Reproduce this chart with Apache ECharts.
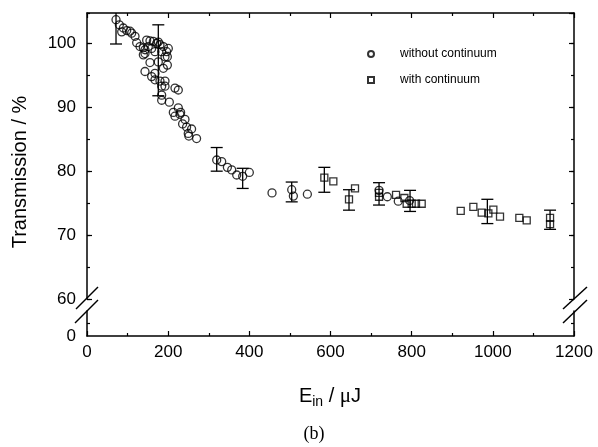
<!DOCTYPE html>
<html>
<head>
<meta charset="utf-8">
<script src="https://cdn.jsdelivr.net/npm/echarts@6/dist/echarts.min.js"></script>
<style>
html,body{margin:0;padding:0;background:#fff;}
#c{width:598px;height:447px;}
</style>
</head>
<body>
<div id="c"></div>
<script>
// ---- data ----
const seriesNames = ['without continuum', 'with continuum'];
const circleE = [71.5,79.7,85.5,89.5,97.8,106,110,118.3,122.4,130.6,138.8,142.9,147,151.1,155.2,159.3,163.4,167.5,171.6,175.7,179.8,184,188.1,192.2,196.3,198,200.4,142.9,175.7,155.2,198,188.1,142.9,167.5,159.3,167.5,179.8,192.2,216.8,225,184,192.2,184,184,202.9,225,212.7,230.7,216.8,229,241.4,235.6,245.4,257.7,249.5,251,270,138.8,319.6,331.9,345.9,356.6,368.9,383.6,400,455.9,504.4,508.5,543,719.6,740,767,795];
const circleT = [103.7,102.9,101.8,102.4,102.0,101.9,101.6,101.1,100.1,99.5,99.3,99.0,100.5,99.5,100.4,99.2,100.3,98.7,100.0,100.2,99.8,98.7,99.5,97.9,98.7,97.9,99.2,98.4,97.1,97.0,96.6,96.1,95.6,95.3,94.8,94.3,94.1,94.1,93.0,92.7,93.3,93.3,91.9,91.1,90.8,89.9,89.2,89.2,88.6,88.9,88.1,87.4,86.9,86.6,85.9,85.5,85.1,98.2,81.75,81.5,80.6,80.2,79.4,79.2,79.8,76.6,77.1,76.1,76.4,77.0,76.0,75.3,75.4];
const squareE = [584.8,607,645.6,660.4,719.6,719.6,761.5,782,787.7,800,810.7,824.7,920.9,952,972.6,989,1001.3,1017.7,1065.3,1083.5,1141,1141];
const squareT = [79.0,78.4,75.6,77.3,76.6,76.0,76.3,75.8,74.9,74.9,74.9,74.9,73.8,74.4,73.5,73.4,74.0,72.9,72.7,72.3,72.7,71.7];
const errE    = [71.5,175.7,319.6,383.6,504.4,584.8,645.6,719.6,796,986.5,1141];
const errLow  = [99.9,91.8,80.0,77.3,75.2,76.7,73.9,74.7,73.7,71.8,70.9];
const errHigh = [107.5,102.9,83.7,80.45,78.3,80.6,77.1,78.2,77.0,75.6,73.9];
const xTickInterval = 200;
const yTickInterval = 10;

// ---- build ----
const FONT = 'Liberation Sans, Arial, Helvetica, sans-serif';
const circles = circleE.map((e, i) => [e, circleT[i]]);
const squares = squareE.map((e, i) => [e, squareT[i]]);
const errs = errE.map((e, i) => [e, errLow[i], errHigh[i]]);

const lineStyle = {color: '#000', width: 1.5};
const chart = echarts.init(document.getElementById('c'), null, {renderer: 'canvas'});

function xAx(gridIndex, pos, labels) {
  return {
    type: 'value', gridIndex, position: pos, min: 0, max: 1200, interval: xTickInterval,
    axisLine: {show: true, lineStyle, onZero: false},
    axisTick: {show: true, inside: true, length: 5, lineStyle: {color: '#000', width: 1.2}},
    minorTick: {show: true, splitNumber: 2, length: 3, lineStyle: {color: '#000', width: 1.2}},
    splitLine: {show: false},
    axisLabel: {show: labels, color: '#000', fontSize: 17, fontFamily: FONT, margin: 8,
                formatter: v => String(v)}
  };
}
function yAx(gridIndex, pos, min, max, interval, tickLen, labels, lineShow) {
  return {
    type: 'value', gridIndex, position: pos, min, max, interval,
    axisLine: {show: lineShow, lineStyle, onZero: false},
    axisTick: {show: tickLen > 0, inside: true, length: tickLen, lineStyle: {color: '#000', width: 1.2}},
    splitLine: {show: false},
    axisLabel: {show: labels, color: '#000', fontSize: 17, fontFamily: FONT, margin: 11, showMaxLabel: false,
                formatter: v => String(v)}
  };
}

const yLow = (pos, labels) => Object.assign(yAx(1, pos, 0, 10, 10, 0, labels, true), {
  minorTick: {show: true, splitNumber: 2, length: 3, lineStyle: {color: '#000', width: 1.2}}
});

const SQUARE = 'path://M0,0L10,0L10,10L0,10Z';

const option = {
  backgroundColor: '#fff',
  animation: false,
  grid: [
    {left: 87, right: 24, top: 13, height: 286},
    {left: 87, right: 24, top: 311, height: 25}
  ],
  xAxis: [xAx(0, 'top', false), xAx(1, 'bottom', true)],
  yAxis: [
    yAx(0, 'left', 60, 104.75, yTickInterval, 5, true, true),
    yAx(0, 'left', 60, 104.75, yTickInterval / 2, 3, false, false),
    yAx(0, 'right', 60, 104.75, yTickInterval, 5, false, true),
    yAx(0, 'right', 60, 104.75, yTickInterval / 2, 3, false, false),
    yLow('left', true),
    yLow('right', false)
  ],
  legend: {
    data: seriesNames,
    orient: 'vertical',
    left: 362, top: 43, padding: 5,
    itemWidth: 48, itemHeight: 6, itemGap: 14,
    symbolKeepAspect: true,
    textStyle: {color: '#000', fontSize: 12, fontFamily: FONT},
    selectedMode: false
  },
  series: [
    {
      name: 'errorbars', type: 'custom', xAxisIndex: 0, yAxisIndex: 0, clip: true, silent: true,
      data: errs,
      renderItem: function (params, api) {
        const x = api.value(0);
        const lo = api.coord([x, api.value(1)]);
        const hi = api.coord([x, api.value(2)]);
        const hw = 6;
        const st = {stroke: '#000', lineWidth: 1.3, fill: null};
        return {
          type: 'group',
          children: [
            {type: 'line', shape: {x1: lo[0], y1: lo[1], x2: hi[0], y2: hi[1]}, style: st},
            {type: 'line', shape: {x1: lo[0] - hw, y1: lo[1], x2: lo[0] + hw, y2: lo[1]}, style: st},
            {type: 'line', shape: {x1: hi[0] - hw, y1: hi[1], x2: hi[0] + hw, y2: hi[1]}, style: st}
          ]
        };
      }
    },
    {
      name: seriesNames[0], type: 'scatter', xAxisIndex: 0, yAxisIndex: 0,
      symbol: 'circle', symbolSize: 8, data: circles,
      itemStyle: {color: 'rgba(0,0,0,0)', borderColor: '#000', borderWidth: 1.3}
    },
    {
      name: seriesNames[1], type: 'scatter', xAxisIndex: 0, yAxisIndex: 0,
      symbol: SQUARE, symbolKeepAspect: true, symbolSize: 7, data: squares,
      itemStyle: {color: 'rgba(0,0,0,0)', borderColor: '#000', borderWidth: 1.3}
    }
  ],
  graphic: [
    {type: 'text', x: 20, y: 172, rotation: Math.PI / 2,
     style: {text: 'Transmission / %', fontSize: 20, fontFamily: FONT, fill: '#000', align: 'center', verticalAlign: 'middle'}},
    {type: 'text', x: 330, y: 396,
     style: {
       text: '{a|E}{s|in}{a| / }{m|μ}{a|J}', align: 'center', verticalAlign: 'middle', fill: '#000',
       rich: {
         a: {fontSize: 20, fontFamily: FONT, lineHeight: 20},
         m: {fontSize: 21, fontFamily: 'Liberation Serif, serif', lineHeight: 20},
         s: {fontSize: 14, fontFamily: FONT, lineHeight: 14, padding: [12, 0, 0, 0]}
       }
     }},
    {type: 'text', x: 314, y: 434,
     style: {text: '(b)', fontSize: 18, fontFamily: 'Liberation Serif, Times New Roman, serif', fill: '#000', align: 'center', verticalAlign: 'middle'}},
    // axis break marks
    {type: 'line', shape: {x1: 76, y1: 309, x2: 98, y2: 287}, style: {stroke: '#000', lineWidth: 1.5}},
    {type: 'line', shape: {x1: 75, y1: 323, x2: 98, y2: 300}, style: {stroke: '#000', lineWidth: 1.5}},
    {type: 'line', shape: {x1: 563, y1: 309, x2: 587, y2: 287}, style: {stroke: '#000', lineWidth: 1.5}},
    {type: 'line', shape: {x1: 563, y1: 323, x2: 587, y2: 300}, style: {stroke: '#000', lineWidth: 1.5}}
  ]
};
chart.setOption(option);
</script>
</body>
</html>
